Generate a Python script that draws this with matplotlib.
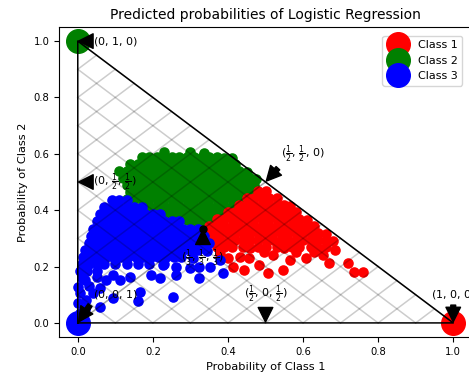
import numpy as np
import matplotlib
matplotlib.use("Agg")
import matplotlib.pyplot as plt

# predicted (p1, p2) of the test samples, grouped by the most likely class
green_pts = [
    (0.23, 0.607), (0.30, 0.607), (0.335, 0.603),
    (0.17, 0.59), (0.19, 0.59), (0.21, 0.59), (0.23, 0.59), (0.25, 0.59), (0.27, 0.59), (0.29, 0.59),
    (0.31, 0.59), (0.33, 0.59), (0.35, 0.59), (0.37, 0.59), (0.39, 0.585), (0.41, 0.585),
    (0.14, 0.565), (0.16, 0.565), (0.18, 0.565), (0.20, 0.565), (0.22, 0.565), (0.24, 0.565), (0.26, 0.565),
    (0.28, 0.565), (0.30, 0.565), (0.32, 0.565), (0.34, 0.565), (0.36, 0.565), (0.38, 0.565), (0.40, 0.565),
    (0.42, 0.565),
    (0.11, 0.54), (0.13, 0.54), (0.15, 0.54), (0.17, 0.54), (0.19, 0.54), (0.21, 0.54), (0.23, 0.54),
    (0.25, 0.54), (0.27, 0.54), (0.29, 0.54), (0.31, 0.54), (0.33, 0.54), (0.35, 0.54), (0.37, 0.54),
    (0.39, 0.54), (0.41, 0.54), (0.43, 0.54), (0.45, 0.535),
    (0.12, 0.515), (0.14, 0.515), (0.16, 0.515), (0.18, 0.515), (0.20, 0.515), (0.22, 0.515), (0.24, 0.515),
    (0.26, 0.515), (0.28, 0.515), (0.30, 0.515), (0.32, 0.515), (0.34, 0.515), (0.36, 0.515), (0.38, 0.515),
    (0.40, 0.515), (0.42, 0.515), (0.44, 0.515), (0.46, 0.515), (0.475, 0.51),
    (0.13, 0.49), (0.15, 0.49), (0.17, 0.49), (0.19, 0.49), (0.21, 0.49), (0.23, 0.49), (0.25, 0.49),
    (0.27, 0.49), (0.29, 0.49), (0.31, 0.49), (0.33, 0.49), (0.35, 0.49), (0.37, 0.49), (0.39, 0.49),
    (0.41, 0.49), (0.43, 0.49), (0.45, 0.49), (0.47, 0.49),
    (0.14, 0.465), (0.16, 0.465), (0.18, 0.465), (0.20, 0.465), (0.22, 0.465), (0.24, 0.465), (0.26, 0.465),
    (0.28, 0.465), (0.30, 0.465), (0.32, 0.465), (0.34, 0.465), (0.36, 0.465), (0.38, 0.465), (0.40, 0.465),
    (0.42, 0.465), (0.44, 0.465), (0.46, 0.465),
    (0.13, 0.44), (0.15, 0.44), (0.17, 0.44), (0.19, 0.44), (0.21, 0.44), (0.23, 0.44), (0.25, 0.44),
    (0.27, 0.44), (0.29, 0.44), (0.31, 0.44), (0.33, 0.44), (0.35, 0.44), (0.37, 0.44), (0.39, 0.44),
    (0.41, 0.44), (0.43, 0.44),
    (0.17, 0.415), (0.19, 0.415), (0.21, 0.415), (0.23, 0.415), (0.25, 0.415), (0.27, 0.415), (0.29, 0.415),
    (0.31, 0.415), (0.33, 0.415), (0.35, 0.415), (0.37, 0.415), (0.39, 0.415), (0.41, 0.415),
    (0.22, 0.39), (0.24, 0.39), (0.26, 0.39), (0.28, 0.39), (0.30, 0.39), (0.32, 0.39), (0.34, 0.39),
    (0.36, 0.39), (0.38, 0.39),
    (0.27, 0.365), (0.29, 0.365), (0.31, 0.365), (0.33, 0.365), (0.35, 0.365),
    (0.31, 0.345), (0.33, 0.345),
]

red_pts = [
    (0.48, 0.468), (0.50, 0.468),
    (0.45, 0.444), (0.47, 0.444), (0.49, 0.444), (0.51, 0.444), (0.53, 0.444),
    (0.43, 0.42), (0.45, 0.42), (0.47, 0.42), (0.49, 0.42), (0.51, 0.42), (0.53, 0.42), (0.55, 0.42),
    (0.565, 0.415),
    (0.40, 0.395), (0.42, 0.395), (0.44, 0.395), (0.46, 0.395), (0.48, 0.395), (0.50, 0.395), (0.52, 0.395),
    (0.54, 0.395), (0.56, 0.395), (0.58, 0.395),
    (0.37, 0.37), (0.39, 0.37), (0.41, 0.37), (0.43, 0.37), (0.45, 0.37), (0.47, 0.37), (0.49, 0.37),
    (0.51, 0.37), (0.53, 0.37), (0.55, 0.37), (0.57, 0.37), (0.59, 0.37), (0.61, 0.365),
    (0.35, 0.345), (0.37, 0.345), (0.39, 0.345), (0.41, 0.345), (0.43, 0.345), (0.45, 0.345), (0.47, 0.345),
    (0.49, 0.345), (0.51, 0.345), (0.53, 0.345), (0.55, 0.345), (0.57, 0.345), (0.59, 0.345), (0.61, 0.345),
    (0.63, 0.345),
    (0.34, 0.32), (0.36, 0.32), (0.38, 0.32), (0.40, 0.32), (0.42, 0.32), (0.44, 0.32), (0.46, 0.32),
    (0.48, 0.32), (0.50, 0.32), (0.52, 0.32), (0.54, 0.32), (0.56, 0.32), (0.58, 0.32), (0.60, 0.32),
    (0.62, 0.32), (0.64, 0.32), (0.66, 0.315),
    (0.36, 0.295), (0.38, 0.295), (0.40, 0.295), (0.42, 0.295), (0.44, 0.295), (0.46, 0.295), (0.48, 0.295),
    (0.50, 0.295), (0.52, 0.295), (0.54, 0.295), (0.56, 0.295), (0.58, 0.295), (0.60, 0.295), (0.62, 0.295),
    (0.64, 0.295), (0.66, 0.29), (0.68, 0.29),
    (0.37, 0.27), (0.39, 0.27), (0.41, 0.268), (0.44, 0.27), (0.46, 0.265), (0.48, 0.27), (0.50, 0.268),
    (0.53, 0.27), (0.55, 0.265), (0.57, 0.27), (0.59, 0.27), (0.62, 0.268), (0.64, 0.265), (0.66, 0.27),
    (0.378, 0.245), (0.40, 0.23), (0.413, 0.20), (0.431, 0.235), (0.444, 0.188), (0.457, 0.23),
    (0.484, 0.206), (0.497, 0.25), (0.506, 0.176), (0.52, 0.24), (0.546, 0.188), (0.564, 0.223),
    (0.58, 0.25), (0.608, 0.229), (0.63, 0.253), (0.652, 0.241), (0.67, 0.212), (0.684, 0.259),
    (0.719, 0.212), (0.737, 0.182), (0.759, 0.182),
]

blue_pts = [
    (0.09, 0.435), (0.11, 0.435), (0.13, 0.435),
    (0.07, 0.41), (0.09, 0.41), (0.11, 0.41), (0.13, 0.41), (0.15, 0.41), (0.17, 0.41),
    (0.06, 0.385), (0.08, 0.385), (0.10, 0.385), (0.12, 0.385), (0.14, 0.385), (0.16, 0.385), (0.18, 0.385),
    (0.20, 0.385), (0.22, 0.385),
    (0.05, 0.36), (0.07, 0.36), (0.09, 0.36), (0.11, 0.36), (0.13, 0.36), (0.15, 0.36), (0.17, 0.36),
    (0.19, 0.36), (0.21, 0.36), (0.23, 0.36), (0.25, 0.36), (0.27, 0.36),
    (0.04, 0.335), (0.06, 0.335), (0.08, 0.335), (0.10, 0.335), (0.12, 0.335), (0.14, 0.335), (0.16, 0.335),
    (0.18, 0.335), (0.20, 0.335), (0.22, 0.335), (0.24, 0.335), (0.26, 0.335), (0.28, 0.335), (0.30, 0.335),
    (0.32, 0.335),
    (0.035, 0.31), (0.055, 0.31), (0.075, 0.31), (0.095, 0.31), (0.115, 0.31), (0.135, 0.31), (0.155, 0.31),
    (0.175, 0.31), (0.195, 0.31), (0.215, 0.31), (0.235, 0.31), (0.255, 0.31), (0.275, 0.31), (0.295, 0.31),
    (0.315, 0.31), (0.335, 0.31),
    (0.03, 0.285), (0.05, 0.285), (0.07, 0.285), (0.09, 0.285), (0.11, 0.285), (0.13, 0.285), (0.15, 0.285),
    (0.17, 0.285), (0.19, 0.285), (0.21, 0.285), (0.23, 0.285), (0.25, 0.285), (0.27, 0.285), (0.29, 0.285),
    (0.31, 0.285), (0.33, 0.285), (0.35, 0.285),
    (0.02, 0.26), (0.04, 0.26), (0.06, 0.26), (0.08, 0.26), (0.10, 0.26), (0.12, 0.26), (0.14, 0.26),
    (0.16, 0.26), (0.18, 0.26), (0.20, 0.26), (0.22, 0.26), (0.24, 0.26), (0.26, 0.26), (0.28, 0.26),
    (0.30, 0.26), (0.32, 0.26), (0.345, 0.255),
    (0.015, 0.235), (0.035, 0.235), (0.055, 0.235), (0.075, 0.235), (0.095, 0.235), (0.115, 0.235),
    (0.135, 0.235), (0.155, 0.235), (0.175, 0.235), (0.195, 0.235), (0.215, 0.235), (0.235, 0.235),
    (0.255, 0.235), (0.275, 0.235),
    (0.01, 0.21), (0.03, 0.21), (0.05, 0.21), (0.07, 0.21), (0.10, 0.21), (0.13, 0.21), (0.16, 0.21),
    (0.19, 0.21), (0.23, 0.21),
    (0.005, 0.185), (0.025, 0.185), (0.05, 0.185), (0.01, 0.16), (0.019, 0.152), (0.05, 0.164),
    (0.076, 0.152), (0.094, 0.17), (0.112, 0.152), (0.138, 0.164), (0.0, 0.129), (0.03, 0.13),
    (0.06, 0.125), (0.005, 0.105), (0.04, 0.105), (0.023, 0.082), (0.0, 0.07), (0.059, 0.058),
    (0.02, 0.05), (0.005, 0.035), (0.094, 0.087), (0.16, 0.076), (0.165, 0.11), (0.253, 0.093),
    (0.196, 0.17), (0.218, 0.158), (0.262, 0.17), (0.262, 0.20), (0.227, 0.206), (0.298, 0.194),
    (0.324, 0.158), (0.307, 0.229), (0.324, 0.20), (0.351, 0.20), (0.378, 0.223), (0.386, 0.176),
]

# annotated points on the simplex: label, point, text position
ann_labels = [r'($\frac{1}{3}$, $\frac{1}{3}$, $\frac{1}{3}$)',
              r'($\frac{1}{2}$, $0$, $\frac{1}{2}$)',
              r'($0$, $\frac{1}{2}$, $\frac{1}{2}$)',
              r'($\frac{1}{2}$, $\frac{1}{2}$, $0$)',
              r'($0$, $0$, $1$)',
              r'($1$, $0$, $0$)',
              r'($0$, $1$, $0$)']
ann_xy = [(1.0 / 3, 1.0 / 3), (0.5, 0.0), (0.0, 0.5), (0.5, 0.5), (0.0, 0.0), (1.0, 0.0), (0.0, 1.0)]
ann_text = [(1.0 / 3, 0.23), (0.5, 0.1), (0.1, 0.5), (0.6, 0.6), (0.1, 0.1), (1.0, 0.1), (0.1, 1.0)]

grid_steps = [0.0, 0.1, 0.2, 0.3, 0.4, 0.5, 0.6, 0.7, 0.8, 0.9, 1.0]

fig = plt.figure(figsize=(4.69, 3.76), dpi=100)
ax = fig.add_axes([0.1258, 0.1037, 0.8806, 0.8245])

for pts, col in [(green_pts, 'g'), (red_pts, 'r'), (blue_pts, 'b')]:
    pts = np.array(pts)
    ax.scatter(pts[:, 0], pts[:, 1], s=58, c=col, linewidths=0)

# perfect predictions
ax.plot([1.0], [0.0], 'ro', ms=17, label="Class 1")
ax.plot([0.0], [1.0], 'go', ms=17, label="Class 2")
ax.plot([0.0], [0.0], 'bo', ms=17, label="Class 3")
ax.plot([0.0, 1.0, 0.0, 0.0], [0.0, 0.0, 1.0, 0.0], 'k', lw=1.1)

for lab, xy, xyt in zip(ann_labels, ann_xy, ann_text):
    ax.annotate(lab, xy=xy, xytext=xyt, xycoords='data', fontsize=8,
                arrowprops=dict(facecolor='black', shrink=0.05,
                                width=3.5, headwidth=10.5, headlength=10.5),
                horizontalalignment='center', verticalalignment='center')
ax.plot([1.0 / 3], [1.0 / 3], 'ko', ms=5)

# grid on the simplex
for x in grid_steps:
    ax.plot([0, x], [x, 0], 'k', alpha=0.2, lw=1.1)
    ax.plot([0, 0 + (1 - x) / 2], [x, x + (1 - x) / 2], 'k', alpha=0.2, lw=1.1)
    ax.plot([x, x + (1 - x) / 2], [0, 0 + (1 - x) / 2], 'k', alpha=0.2, lw=1.1)

ax.set_title("Predicted probabilities of Logistic Regression", fontsize=10)
ax.set_xlabel("Probability of Class 1", fontsize=8.2)
ax.set_ylabel("Probability of Class 2", fontsize=8.2)
ax.tick_params(labelsize=7.2)
ax.set_xlim(-0.05, 1.05)
ax.set_ylim(-0.05, 1.05)
ax.legend(loc="upper right", bbox_to_anchor=(0.99, 0.99), fontsize=8)

fig.savefig("out.png", dpi=100)
